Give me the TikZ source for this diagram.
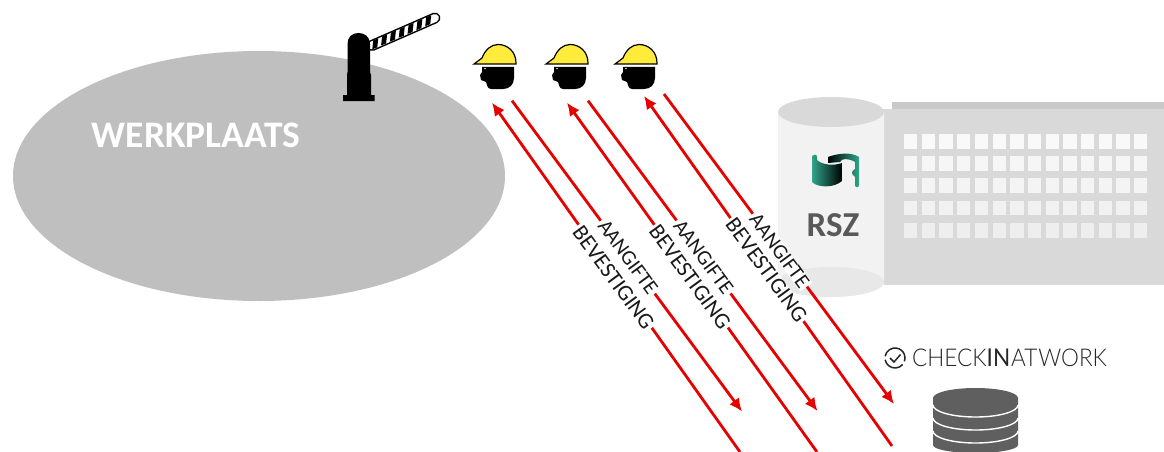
\documentclass[tikz,border=0pt]{standalone}
\usepackage{fontspec}
\setmainfont{Carlito}
\newfontfamily\latolight{Lato Light}
\newfontfamily\latobold{Lato}
\usetikzlibrary{arrows.meta,shapes.geometric}
\definecolor{rl}{HTML}{E60000}
\definecolor{helm}{HTML}{FFEB3B}
\definecolor{dbg}{HTML}{5F5F5F}
\definecolor{tealk}{HTML}{2FA58A}
\tikzset{
  x=1pt,y=-1pt,
  flow/.style={draw=rl,line width=2.8pt,-{Latex[length=13pt,width=12pt]}},
  lab/.style={fill=white,text=black!90,font=\fontsize{21}{22}\selectfont,inner xsep=2pt,inner ysep=0pt,rotate=-53.8,minimum height=15pt,anchor=center},
  labl/.style={lab,font=\fontsize{22.5}{23}\selectfont},
  worker/.pic={
    \fill[black] (9,3) -- (41,3) -- (41,14) .. controls (41,21) and (36,25) .. (30,25) -- (18,25)
       .. controls (14,25) and (14,20) .. (13,18) -- (8,16) -- (7,11) -- (9,8) -- cycle;
    \fill[white!85!black] (12,4.5) circle (.8);
    \filldraw[fill=helm,draw=black,line width=1.2pt] (1,0) -- (9,-6) .. controls (12,-14) and (18,-19.5) .. (25,-19.5)
       .. controls (35,-19.5) and (43,-12) .. (43,-1) -- (43,0) -- cycle;
  }
}
\begin{document}
\begin{tikzpicture}
\useasboundingbox (0,0) rectangle (1164,452);
\clip (0,0) rectangle (1164,452);
\fill[white] (0,0) rectangle (1164,452);
% yard
\node[ellipse,fill=black!25,minimum width=492pt,minimum height=250pt,inner sep=0pt] (yard) at (259,176) {};
\node[text=white,font=\bfseries\fontsize{37.5}{40}\selectfont,anchor=center] (yardlab) at (196,135) {WERKPLAATS};
% barrier arm
\draw[black,line width=11pt,line cap=round] (372,45.5) -- (435,18);
\draw[white,line width=8pt,line cap=round] (372,45.5) -- (435,18);
\foreach \t in {0.06,0.2,...,0.9}{
  \path (372,45.5) -- (435,18) coordinate[pos=\t] (s);
  \fill[black] ([shift={(-3.5,5.5)}]s) -- ([shift={(1.5,3.5)}]s) -- ([shift={(2.5,-5.5)}]s) -- ([shift={(-2.5,-3.5)}]s) -- cycle;
}
% barrier post
\fill[black] (347.5,72) -- (347.5,44) .. controls (347.5,37) and (352,33) .. (358.5,33) .. controls (365,33) and (370,37) .. (370,44) -- (370,72) -- (371,75) -- (371,95) -- (374.5,95) -- (374.5,101) -- (343,101) -- (343,95) -- (347,95) -- (347,75) -- cycle;
% workers
\pic at (473,64) {worker};
\pic at (545,64) {worker};
\pic at (614,64) {worker};
% building
\fill[black!15] (884,109) rectangle (1164,285);
\fill[black!15] (870,109) rectangle (895,125);
\fill[black!21] (892,102) rectangle (1164,109);
\foreach \yy/\cc in {134/2.5,156/3.5,178/4.5,200.5/5.5,223/6.5}{
  \foreach \i in {0,...,13}{
    \fill[black!\cc] (904+17.7*\i,\yy) rectangle ++(13.3,14.5);
  }
}
% cylinder
\fill[black!5] (778,112) -- (778,282) arc[start angle=180,end angle=0,x radius=53,y radius=15] -- (884,112) -- cycle;
\fill[black!9] (831,282) ellipse[x radius=53,y radius=15];
\fill[black!15] (831,112) ellipse[x radius=53,y radius=15];
% logo
\shade[left color=black,right color=tealk]
  (828,157) .. controls (838,153) and (852,152) .. (859,157) -- (859,185) .. controls (859,188) and (855,188) .. (855,185)
  -- (855,177) .. controls (851,174) and (851,171) .. (855,169) -- (855,162) .. controls (848,158) and (842,158) .. (840,162) -- (828,163) -- cycle;
\shade[left color=tealk,middle color=tealk,right color=black]
  (812,156) .. controls (813,154) and (817,154) .. (817,157) -- (817,160) .. controls (822,165) and (834,166) .. (842,163)
  -- (842,181) .. controls (834,188) and (818,188) .. (812,182) -- cycle;
\node[text=black!65,font=\bfseries\fontsize{35}{36}\selectfont] (rsz) at (833,225) {RSZ};
% flows
\coordinate (a1s) at (512,100.7); \coordinate (a1e) at (742,411.5);
\coordinate (b1s) at (492,102.7); \coordinate (b1e) at (740,452);
\coordinate (a2s) at (588,100.7); \coordinate (a2e) at (817.5,411);
\coordinate (b2s) at (567,102.7); \coordinate (b2e) at (817,452);
\coordinate (a3s) at (664,94);    \coordinate (a3e) at (894,404);
\coordinate (b3s) at (644,96);    \coordinate (b3e) at (892,446);
\draw[flow] (a1s) -- (a1e);
\draw[flow] (b1e) -- (b1s);
\draw[flow] (a2s) -- (a2e);
\draw[flow] (b2e) -- (b2s);
\draw[flow] (a3s) -- (a3e);
\draw[flow] (b3e) -- (b3s);
\node[lab] (l1) at (628,257) {AANGIFTE};
\node[labl] (l2) at (613.5,277.5) {BEVESTIGING};
\node[lab] (l3) at (703.5,257) {AANGIFTE};
\node[labl] (l4) at (690,277) {BEVESTIGING};
\node[lab] (l5) at (779.5,250.5) {AANGIFTE};
\node[labl] (l6) at (766.5,270) {BEVESTIGING};
% brand
\draw[black!85,line width=1.5pt] (895,358) ++(40:10) arc[start angle=40,end angle=170,radius=10];
\draw[black!85,line width=1.5pt] (895,358) ++(190:10) arc[start angle=190,end angle=380,radius=10];
\draw[black!85,line width=1.5pt] (890,358) -- (894,362) -- (900.5,354.5);
\node[anchor=west,inner sep=0pt,text=black!85,font=\fontsize{24.5}{26}\selectfont] (brand) at (912,357.5) {\scalebox{0.92}[1]{\latolight CHECK\latobold IN\latolight\kern1pt AT\kern1pt WORK}};
% database
\fill[dbg] (933,398) -- (933,445) arc[start angle=180,end angle=0,x radius=42.5,y radius=8] -- (1018,398) arc[start angle=0,end angle=-180,x radius=42.5,y radius=10] -- cycle;
\foreach \yy in {405,418,431}{
  \draw[white,line width=1.4pt] (933,\yy) arc[start angle=180,end angle=0,x radius=42.5,y radius=12];
}
\end{tikzpicture}
\end{document}
